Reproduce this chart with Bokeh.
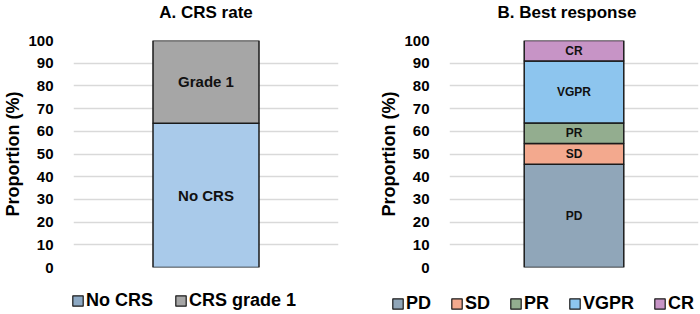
from bokeh.plotting import figure
from bokeh.layouts import row, column
from bokeh.models import ColumnDataSource, Legend, LegendItem, FixedTicker, Range1d, Title
from bokeh.core.properties import value
from bokeh.embed import file_html
from bokeh.resources import INLINE

# ---- data ----
crs_categories = ["No CRS", "CRS grade 1"]
crs_values = [63.6, 36.4]
crs_bar_labels = ["No CRS", "Grade 1"]

resp_categories = ["PD", "SD", "PR", "VGPR", "CR"]
resp_values = [45.5, 9.1, 9.1, 27.3, 9.1]
resp_bar_labels = ["PD", "SD", "PR", "VGPR", "CR"]

y_ticks = [0, 10, 20, 30, 40, 50, 60, 70, 80, 90, 100]

# ---- styles ----
FONT = "Liberation Sans"
crs_bar_colors = ["#A9CAEA", "#A6A6A6"]
crs_legend_colors = ["#8DA9C4", "#A6A6A6"]
resp_colors = ["#90A6B9", "#F3A98E", "#93AD8F", "#8DC5EE", "#C794C6"]


def base_fig(title, min_left, min_right, min_bottom, title_align="center", title_offset=0):
    p = figure(width=350, height=280, output_backend="svg", toolbar_location=None,
               x_range=Range1d(0, 1), y_range=Range1d(0, 100),
               x_axis_location=None, min_border_left=min_left, min_border_right=min_right,
               min_border_top=38, min_border_bottom=min_bottom)
    p.outline_line_color = None
    p.background_fill_color = "white"
    p.border_fill_color = "white"
    p.title.text = title
    p.title.align = title_align
    p.title.offset = title_offset
    p.title.text_font = FONT
    p.title.text_font_size = "17px"
    p.title.text_font_style = "bold"
    p.title.text_color = "black"
    p.title.standoff = 0
    # blank spacer between title and frame
    p.add_layout(Title(text=" ", text_font_size="16px", standoff=0), "above")
    p.xgrid.grid_line_color = None
    p.ygrid.grid_line_color = "#D9D9D9"
    p.ygrid.grid_line_width = 1.5
    ax = p.yaxis[0]
    ax.ticker = FixedTicker(ticks=y_ticks)
    ax.axis_line_color = None
    ax.major_tick_line_color = None
    ax.minor_tick_line_color = None
    ax.major_tick_out = 0
    ax.major_tick_in = 0
    ax.major_label_standoff = 20
    ax.major_label_text_font = FONT
    ax.major_label_text_font_size = "15px"
    ax.major_label_text_font_style = "bold"
    ax.major_label_text_color = "black"
    ax.axis_label = "Proportion (%)"
    ax.axis_label_text_font = FONT
    ax.axis_label_text_font_size = "18px"
    ax.axis_label_text_font_style = "bold"
    ax.axis_label_text_color = "black"
    ax.axis_label_standoff = 2
    return p


def stacked(p, cats, vals, colors, labels, label_size):
    bottoms, tops, mids = [], [], []
    acc = 0.0
    for v in vals:
        bottoms.append(acc)
        tops.append(acc + v)
        mids.append(acc + v / 2)
        acc += v
    for i, c in enumerate(cats):
        p.vbar(x=[0.5], bottom=[bottoms[i]], top=[tops[i]], width=0.4,
               fill_color=colors[i], line_color="#1a1a1a", line_width=1.5)
    src = ColumnDataSource(dict(x=[0.5] * len(cats), y=mids, t=labels))
    p.text(x="x", y="y", text="t", source=src, text_align="center", text_baseline="middle",
           text_font=value(FONT), text_font_size=label_size, text_font_style="bold",
           text_color="#111111")


def legend_fig(cats, colors, loc, spacing):
    f = figure(width=350, height=34, output_backend="svg", toolbar_location=None,
               x_range=Range1d(0, 1), y_range=Range1d(0, 1),
               x_axis_location=None, y_axis_location=None,
               min_border_left=0, min_border_right=0, min_border_top=0, min_border_bottom=0)
    f.outline_line_color = None
    f.xgrid.grid_line_color = None
    f.ygrid.grid_line_color = None
    f.border_fill_color = "white"
    items = []
    for lab, c in zip(cats, colors):
        r = f.vbar(x=[float("nan")], bottom=[0], top=[0], width=0.4,
                   fill_color=c, line_color="#1a1a1a", line_width=1.2)
        items.append(LegendItem(label=lab, renderers=[r]))
    leg = Legend(items=items, orientation="horizontal", location=loc, padding=0, margin=0,
                 spacing=spacing, label_standoff=2, glyph_width=13, glyph_height=13,
                 border_line_color=None, background_fill_alpha=0,
                 label_text_font=FONT, label_text_font_size="18px", label_text_font_style="bold",
                 label_text_color="black")
    f.add_layout(leg, "center")
    return f


# ---- A. CRS rate ----
pA = base_fig("A. CRS rate", 68, 12, 10)
stacked(pA, crs_categories, crs_values, crs_bar_colors, crs_bar_labels, "15px")
lA = legend_fig(crs_categories, crs_legend_colors, (71, 3), 21)

# ---- B. Best response ----
pB = base_fig("B. Best response", 99, 2, 13, title_align="left", title_offset=48)
stacked(pB, resp_categories, resp_values, resp_colors, resp_bar_labels, "12px")
lB = legend_fig(resp_categories, resp_colors, (41, 0), 19)

layout = column(row(pA, pB), row(lA, lB), spacing=0)
open("out.html", "w").write(file_html(layout, INLINE))
